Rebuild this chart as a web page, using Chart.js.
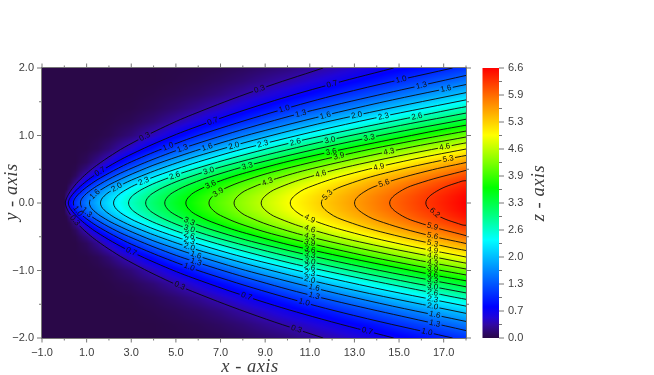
<!DOCTYPE html>
<html>
<head>
<meta charset="utf-8">
<title>Contour map</title>
<style>
  html, body { margin: 0; padding: 0; background: #fff; }
  canvas { display: block; filter: blur(0.45px); }
</style>
<script src="https://cdn.jsdelivr.net/npm/chart.js@4/dist/chart.umd.min.js"></script>
</head>
<body>
<canvas id="map" width="654" height="375"></canvas>
<script>
// Axis ticks
const xMajor = [-1, 1, 3, 5, 7, 9, 11, 13, 15, 17];
const xMinor = [0, 2, 4, 6, 8, 10, 12, 14, 16, 18];
const yMajor = [-2, -1, 0, 1, 2];
const yMinor = [-1.5, -0.5, 0.5, 1.5];
const zMajor = [0, 0.66, 1.32, 1.98, 2.64, 3.3, 3.96, 4.62, 5.28, 5.94, 6.6];
const zMinor = [0.33, 0.99, 1.65, 2.31, 2.97, 3.63, 4.29, 4.95, 5.61, 6.27];
const zTickLabels = ["0.0", "0.7", "1.3", "2.0", "2.6", "3.3", "3.9", "4.6", "5.3", "5.9", "6.6"];

// Colour bar stops
const cmapValues = [0, 0.15, 0.33, 0.5, 0.76, 1.6, 2.4, 3.0, 3.67, 4.3, 4.96, 5.8, 6.6];
const cmapColors = ["#2a0848", "#2e0870", "#3108a4", "#2004d8", "#0000ff", "#0080ff", "#00ffff", "#00ff80", "#00ff00", "#80ff00", "#ffff00", "#ff8000", "#ff0000"];

// Surface: one column per x, one value per |y|
const xGrid = [-1, 0, 0.1, 0.25, 0.5, 1, 1.5, 2, 3, 4, 5, 6, 7, 8, 10, 12, 14, 16, 18];
const yGrid = [0, 0.1, 0.2, 0.3, 0.4, 0.5, 0.6, 0.8, 1, 1.2, 1.4, 1.6, 1.8, 2];
const zColumns = [
  [0, 0, 0, 0, 0, 0, 0, 0, 0, 0, 0, 0, 0, 0],
  [0, 0, 0, 0, 0, 0, 0, 0, 0, 0, 0, 0, 0, 0],
  [0.49, 0.22, 0.02, 0, 0, 0, 0, 0, 0, 0, 0, 0, 0, 0],
  [0.78, 0.56, 0.21, 0.04, 0, 0, 0, 0, 0, 0, 0, 0, 0, 0],
  [1.10, 0.94, 0.58, 0.26, 0.08, 0.02, 0, 0, 0, 0, 0, 0, 0, 0],
  [1.56, 1.43, 1.13, 0.75, 0.43, 0.21, 0.08, 0.01, 0, 0, 0, 0, 0, 0],
  [1.91, 1.81, 1.54, 1.17, 0.80, 0.49, 0.27, 0.06, 0.01, 0, 0, 0, 0, 0],
  [2.20, 2.11, 1.87, 1.53, 1.15, 0.80, 0.51, 0.17, 0.04, 0.01, 0, 0, 0, 0],
  [2.70, 2.62, 2.42, 2.11, 1.75, 1.37, 1.02, 0.48, 0.18, 0.06, 0.01, 0, 0, 0],
  [3.11, 3.05, 2.87, 2.59, 2.25, 1.88, 1.50, 0.85, 0.41, 0.17, 0.06, 0.02, 0, 0],
  [3.48, 3.42, 3.26, 3.01, 2.69, 2.32, 1.94, 1.23, 0.69, 0.34, 0.15, 0.06, 0.02, 0.01],
  [3.81, 3.76, 3.61, 3.38, 3.07, 2.72, 2.34, 1.61, 0.99, 0.55, 0.27, 0.12, 0.05, 0.02],
  [4.12, 4.07, 3.93, 3.71, 3.42, 3.08, 2.71, 1.96, 1.29, 0.78, 0.43, 0.21, 0.10, 0.04],
  [4.40, 4.36, 4.23, 4.02, 3.74, 3.42, 3.06, 2.30, 1.60, 1.02, 0.61, 0.33, 0.17, 0.08],
  [4.92, 4.88, 4.76, 4.57, 4.32, 4.02, 3.68, 2.93, 2.19, 1.53, 1.01, 0.62, 0.36, 0.19],
  [5.39, 5.35, 5.25, 5.07, 4.84, 4.55, 4.23, 3.50, 2.74, 2.04, 1.44, 0.96, 0.60, 0.36],
  [5.82, 5.79, 5.69, 5.53, 5.31, 5.04, 4.73, 4.02, 3.26, 2.53, 1.87, 1.32, 0.89, 0.58],
  [6.22, 6.19, 6.10, 5.95, 5.74, 5.48, 5.19, 4.50, 3.75, 3.00, 2.31, 1.70, 1.21, 0.82],
  [6.60, 6.57, 6.48, 6.34, 6.14, 5.90, 5.61, 4.95, 4.21, 3.45, 2.73, 2.09, 1.54, 1.09]
];

// Contours, upper half only ([x, y] from the nose outwards); the curves are symmetric about y = 0
const line03 = [[0.045, 0], [0.056, 0.028], [0.068, 0.041], [0.09, 0.062], [0.135, 0.096], [0.18, 0.124], [0.27, 0.173], [0.36, 0.215], [0.54, 0.288], [0.72, 0.351], [1.08, 0.46], [1.44, 0.555], [2.16, 0.718], [2.88, 0.86], [4.32, 1.103], [5.76, 1.313], [8.64, 1.674], [11.6, 2]];
const line07 = [[0.18, 0], [0.198, 0.034], [0.225, 0.056], [0.27, 0.082], [0.36, 0.124], [0.54, 0.191], [0.72, 0.248], [1.08, 0.346], [1.44, 0.43], [2.16, 0.575], [2.88, 0.702], [4.32, 0.92], [5.76, 1.11], [8.64, 1.437], [11.52, 1.719], [14.76, 2]];
const line10 = [[0.405, 0], [0.417, 0.028], [0.446, 0.051], [0.506, 0.083], [0.608, 0.123], [0.81, 0.186], [1.215, 0.287], [1.62, 0.372], [2.43, 0.518], [3.24, 0.645], [4.86, 0.863], [6.48, 1.053], [9.72, 1.38], [12.96, 1.665], [17.4, 2]];
const line13 = [[0.72, 0], [0.742, 0.037], [0.792, 0.068], [0.9, 0.111], [1.08, 0.164], [1.44, 0.248], [2.16, 0.383], [2.88, 0.496], [4.32, 0.691], [5.76, 0.86], [8.64, 1.151], [11.52, 1.404], [18, 1.89]];
const line16 = [[1.125, 0], [1.159, 0.046], [1.238, 0.085], [1.406, 0.139], [1.688, 0.206], [2.25, 0.31], [3.375, 0.478], [4.5, 0.621], [6.75, 0.864], [9, 1.075], [13.5, 1.439], [18, 1.755]];
const line20 = [[1.62, 0], [1.669, 0.055], [1.782, 0.102], [2.025, 0.167], [2.43, 0.247], [3.24, 0.372], [4.86, 0.574], [6.48, 0.745], [9.72, 1.037], [12.96, 1.29], [18, 1.635]];
const line23 = [[2.205, 0], [2.271, 0.064], [2.426, 0.12], [2.756, 0.195], [3.308, 0.288], [4.41, 0.434], [6.615, 0.67], [8.82, 0.869], [13.23, 1.21], [18, 1.528]];
const line26 = [[2.88, 0], [2.966, 0.074], [3.168, 0.137], [3.6, 0.223], [4.32, 0.329], [5.76, 0.496], [8.64, 0.765], [11.52, 0.993], [17.28, 1.382], [18, 1.427]];
const line30 = [[3.645, 0], [3.754, 0.083], [4.01, 0.154], [4.556, 0.25], [5.468, 0.37], [7.29, 0.558], [10.935, 0.861], [14.58, 1.117], [18, 1.332]];
const line33 = [[4.5, 0], [4.635, 0.092], [4.95, 0.171], [5.625, 0.278], [6.75, 0.411], [9, 0.62], [13.5, 0.956], [18, 1.241]];
const line36 = [[5.445, 0], [5.608, 0.101], [5.99, 0.188], [6.806, 0.306], [8.168, 0.452], [10.89, 0.682], [16.335, 1.052], [18, 1.153]];
const line39 = [[6.48, 0], [6.674, 0.11], [7.128, 0.205], [8.1, 0.334], [9.72, 0.493], [12.96, 0.744], [15.55, 0.917], [18, 1.066]];
const line43 = [[7.605, 0], [7.833, 0.12], [8.366, 0.222], [9.506, 0.362], [11.408, 0.534], [15.21, 0.806], [18, 0.978]];
const line46 = [[8.82, 0], [9.085, 0.129], [9.702, 0.239], [11.025, 0.39], [13.23, 0.576], [17.64, 0.869], [18, 0.891]];
const line49 = [[10.125, 0], [10.429, 0.138], [11.138, 0.256], [12.656, 0.417], [15.188, 0.617], [18, 0.8]];
const line53 = [[11.52, 0], [11.866, 0.147], [12.672, 0.273], [14.4, 0.445], [17.28, 0.658], [18, 0.704]];
const line56 = [[13.005, 0], [13.395, 0.156], [14.306, 0.29], [16.256, 0.473], [18, 0.6]];
const line59 = [[14.58, 0], [15.017, 0.166], [16.038, 0.307], [18, 0.484]];
const line62 = [[16.2, 0], [16.686, 0.175], [17.82, 0.324], [18, 0.33]];

const contourLevels = ["0.3", "0.7", "1.0", "1.3", "1.6", "2.0", "2.3", "2.6", "3.0", "3.3", "3.6", "3.9", "4.3", "4.6", "4.9", "5.3", "5.6", "5.9", "6.2"];
const contourLines = [line03, line07, line10, line13, line16, line20, line23, line26, line30, line33, line36, line39, line43, line46, line49, line53, line56, line59, line62];

// Where each contour carries a label, as x values, same order as contourLevels
const topLabelX = [[3.6, 8.75], [1.6, 6.65, 12], [4.65, 9.86, 15.1], [5.3, 10.6, 16], [1.37, 6.4, 11.7, 17.1], [2.35, 7.6, 13.1], [3.56, 8.9, 14.3], [4.95, 10.35, 15.8], [6.47, 11.9], [8.2, 13.66], [6.56, 11.96], [6.9, 12.3], [9.1, 14.55], [11.5, 17.05], [14.1], [11.8, 17.2], [14.33], [], []];
const bottomLabelX = [[0.47, 5.17, 10.4], [3, 8.16, 13.57], [0.6, 5.6, 10.75, 16.25], [1, 5.9, 11.2, 16.6], [5.9, 11.2, 16.6], [5.6, 11, 16.5], [5.6, 11, 16.5], [5.6, 11, 16.5], [5.6, 11, 16.5], [5.6, 11, 16.5], [11, 16.5], [11, 16.5], [11, 16.5], [11, 16.5], [11, 16.5], [16.5], [16.5], [16.5], [16.6]];

const AXIS_COLOR = "#777";
const TEXT_COLOR = "#3c3c3c";
const TICK_FONT = { family: "Liberation Sans", size: 11 };

const hexToRgb = (hex) => [1, 3, 5].map((i) => parseInt(hex.slice(i, i + 2), 16));
const cmapRgb = cmapColors.map(hexToRgb);

const bracket = (arr, v) => {
  let i = 0;
  while (i < arr.length - 2 && v > arr[i + 1]) i++;
  return i;
};

const zAt = (x, y) => {
  const ay = Math.abs(y);
  const i = bracket(xGrid, x);
  const j = bracket(yGrid, ay);
  const tx = Math.max(0, Math.min(1, (x - xGrid[i]) / (xGrid[i + 1] - xGrid[i])));
  const ty = Math.max(0, Math.min(1, (ay - yGrid[j]) / (yGrid[j + 1] - yGrid[j])));
  const a = zColumns[i][j] * (1 - ty) + zColumns[i][j + 1] * ty;
  const b = zColumns[i + 1][j] * (1 - ty) + zColumns[i + 1][j + 1] * ty;
  return a * (1 - tx) + b * tx;
};

const colorAt = (z) => {
  const i = bracket(cmapValues, z);
  const t = Math.max(0, Math.min(1, (z - cmapValues[i]) / (cmapValues[i + 1] - cmapValues[i])));
  return cmapRgb[i].map((c, k) => c + (cmapRgb[i + 1][k] - c) * t);
};

let heatCanvas;

const buildHeat = (chart) => {
  const { left, top, width, height } = chart.chartArea;
  const w = Math.round(width);
  const h = Math.round(height);
  heatCanvas = document.createElement("canvas");
  heatCanvas.width = w;
  heatCanvas.height = h;
  const hctx = heatCanvas.getContext("2d");
  const img = hctx.createImageData(w, h);
  for (let py = 0; py < h; py++) {
    const y = chart.scales.y.getValueForPixel(top + py + 0.5);
    for (let px = 0; px < w; px++) {
      const x = chart.scales.x.getValueForPixel(left + px + 0.5);
      const rgb = colorAt(zAt(x, y));
      const p = (py * w + px) * 4;
      img.data[p] = rgb[0];
      img.data[p + 1] = rgb[1];
      img.data[p + 2] = rgb[2];
      img.data[p + 3] = 255;
    }
  }
  hctx.putImageData(img, 0, 0);
};

const heatmapPlugin = {
  id: "heatmap",
  beforeDatasetsDraw(chart) {
    if (!heatCanvas) buildHeat(chart);
    const { ctx, chartArea, scales } = chart;
    ctx.drawImage(heatCanvas, chartArea.left, chartArea.top);

    // colour bar, next to the z axis
    const zs = scales.z;
    const barLeft = zs.left + 16.5;
    const yTop = zs.getPixelForValue(6.6);
    const yBottom = zs.getPixelForValue(0);
    const grad = ctx.createLinearGradient(0, yBottom, 0, yTop);
    cmapValues.forEach((v, i) => grad.addColorStop(v / 6.6, cmapColors[i]));
    ctx.fillStyle = grad;
    ctx.fillRect(barLeft, yTop, 16.5, yBottom - yTop);
  }
};

const contourYAt = (line, x) => {
  if (x <= line[0][0]) return 0;
  for (let i = 1; i < line.length; i++) {
    if (x <= line[i][0]) {
      const t = (x - line[i - 1][0]) / (line[i][0] - line[i - 1][0]);
      return line[i - 1][1] + (line[i][1] - line[i - 1][1]) * t;
    }
  }
  return line[line.length - 1][1];
};

const collectLabels = (chart) => {
  const sx = chart.scales.x;
  const sy = chart.scales.y;
  const out = [];
  const add = (xs, sign, level) => {
    xs.forEach((x) => {
      const line = contourLines[level];
      const a = [x - 0.2, sign * contourYAt(line, x - 0.2)];
      const b = [x + 0.2, sign * contourYAt(line, x + 0.2)];
      let angle = Math.atan2(sy.getPixelForValue(b[1]) - sy.getPixelForValue(a[1]), sx.getPixelForValue(b[0]) - sx.getPixelForValue(a[0]));
      out.push({
        text: contourLevels[level],
        px: sx.getPixelForValue(x),
        py: sy.getPixelForValue(sign * contourYAt(line, x)),
        angle
      });
    });
  };
  contourLevels.forEach((_, level) => {
    add(topLabelX[level], 1, level);
    add(bottomLabelX[level], -1, level);
  });
  return out;
};

const contourLabelPlugin = {
  id: "contourLabels",
  afterDatasetsDraw(chart) {
    const { ctx, chartArea } = chart;
    const labels = collectLabels(chart);
    // gap in the line: repaint the surface under each label
    labels.forEach((l) => {
      ctx.save();
      ctx.translate(l.px, l.py);
      ctx.rotate(l.angle);
      ctx.beginPath();
      ctx.rect(-7, -3, 14, 6);
      ctx.setTransform(1, 0, 0, 1, 0, 0);
      ctx.clip();
      ctx.drawImage(heatCanvas, chartArea.left, chartArea.top);
      ctx.restore();
    });
    ctx.font = "8px 'Liberation Sans'";
    ctx.fillStyle = "#111";
    ctx.textAlign = "center";
    ctx.textBaseline = "middle";
    labels.forEach((l) => {
      ctx.save();
      ctx.translate(l.px, l.py);
      ctx.rotate(l.angle);
      ctx.fillText(l.text, 0, 0);
      ctx.restore();
    });
  }
};

const framePlugin = {
  id: "frame",
  afterDraw(chart) {
    const { ctx, chartArea: a, scales } = chart;
    ctx.save();
    ctx.strokeStyle = AXIS_COLOR;
    ctx.lineWidth = 1;
    const seg = (x1, y1, x2, y2) => {
      ctx.beginPath();
      ctx.moveTo(x1, y1);
      ctx.lineTo(x2, y2);
      ctx.stroke();
    };
    ctx.strokeRect(a.left - 0.5, a.top - 0.5, a.width + 1, a.height + 1);
    const xTicks = (vals, len) => vals.forEach((v) => {
      const p = scales.x.getPixelForValue(v);
      seg(p, a.top, p, a.top - len);
      seg(p, a.bottom, p, a.bottom + len);
    });
    const yTicks = (vals, len) => vals.forEach((v) => {
      const p = scales.y.getPixelForValue(v);
      seg(a.left, p, a.left - len, p);
      seg(a.right, p, a.right + len, p);
    });
    xTicks(xMajor, 4.5);
    xTicks(xMinor, 2.5);
    yTicks(yMajor, 5);
    yTicks(yMinor, 3);

    const zs = scales.z;
    const barRight = zs.left + 33;
    zMajor.forEach((v) => seg(barRight, zs.getPixelForValue(v), barRight + 5, zs.getPixelForValue(v)));
    zMinor.forEach((v) => seg(barRight, zs.getPixelForValue(v), barRight + 3, zs.getPixelForValue(v)));

    // axis titles
    ctx.fillStyle = TEXT_COLOR;
    ctx.font = "italic 18.5px 'Liberation Serif'";
    ctx.letterSpacing = "0.5px";
    ctx.textAlign = "center";
    ctx.textBaseline = "middle";
    ctx.fillText("x - axis", 250, 367);
    const vertical = (text, x, y) => {
      ctx.save();
      ctx.translate(x, y);
      ctx.rotate(-Math.PI / 2);
      ctx.fillText(text, 0, 0);
      ctx.restore();
    };
    vertical("y - axis", 12, 192);
    vertical("z - axis", 539, 193);
    ctx.restore();
  }
};

const setTicks = (values) => (scale) => {
  scale.ticks = values.map((value) => ({ value }));
};

const formatTick = (v) => v.toFixed(1).replace("-", "\u2212");

const mirrorLine = (line) => {
  const lower = line.slice(1).map((p) => ({ x: p[0], y: -p[1] })).reverse();
  const upper = line.map((p) => ({ x: p[0], y: p[1] }));
  return lower.concat(upper);
};

new Chart(document.getElementById("map"), {
  type: "scatter",
  data: {
    datasets: contourLevels.map((level, i) => ({
      label: level,
      data: mirrorLine(contourLines[i]),
      showLine: true,
      tension: 0.4,
      borderColor: "#0a0a0a",
      borderWidth: 0.9,
      pointRadius: 0,
      fill: false
    }))
  },
  options: {
    responsive: false,
    animation: false,
    devicePixelRatio: 1,
    layout: { padding: { top: 68, left: 0, right: 0, bottom: 0 } },
    plugins: { legend: { display: false }, tooltip: { enabled: false }, title: { display: false } },
    scales: {
      x: {
        type: "linear",
        min: -1,
        max: 18,
        grid: { display: false },
        border: { display: false },
        afterBuildTicks: setTicks(xMajor),
        afterFit: (s) => { s.height = 37; },
        ticks: { autoSkip: false, maxRotation: 0, padding: 0, color: TEXT_COLOR, font: TICK_FONT, callback: formatTick }
      },
      y: {
        type: "linear",
        position: "left",
        min: -2,
        max: 2,
        grid: { display: false },
        border: { display: false },
        afterBuildTicks: setTicks(yMajor),
        afterFit: (s) => { s.width = 42; },
        ticks: { autoSkip: false, padding: 0, color: TEXT_COLOR, font: TICK_FONT, callback: formatTick }
      },
      z: {
        type: "linear",
        position: "right",
        min: 0,
        max: 6.6,
        grid: { display: false, tickLength: 42 },
        border: { display: false },
        afterBuildTicks: setTicks(zMajor),
        afterFit: (s) => { s.width = 188; },
        ticks: {
          autoSkip: false,
          padding: 0,
          color: TEXT_COLOR,
          font: TICK_FONT,
          callback: (v) => zTickLabels[zMajor.indexOf(v)]
        }
      }
    }
  },
  plugins: [heatmapPlugin, contourLabelPlugin, framePlugin]
});
</script>
</body>
</html>
